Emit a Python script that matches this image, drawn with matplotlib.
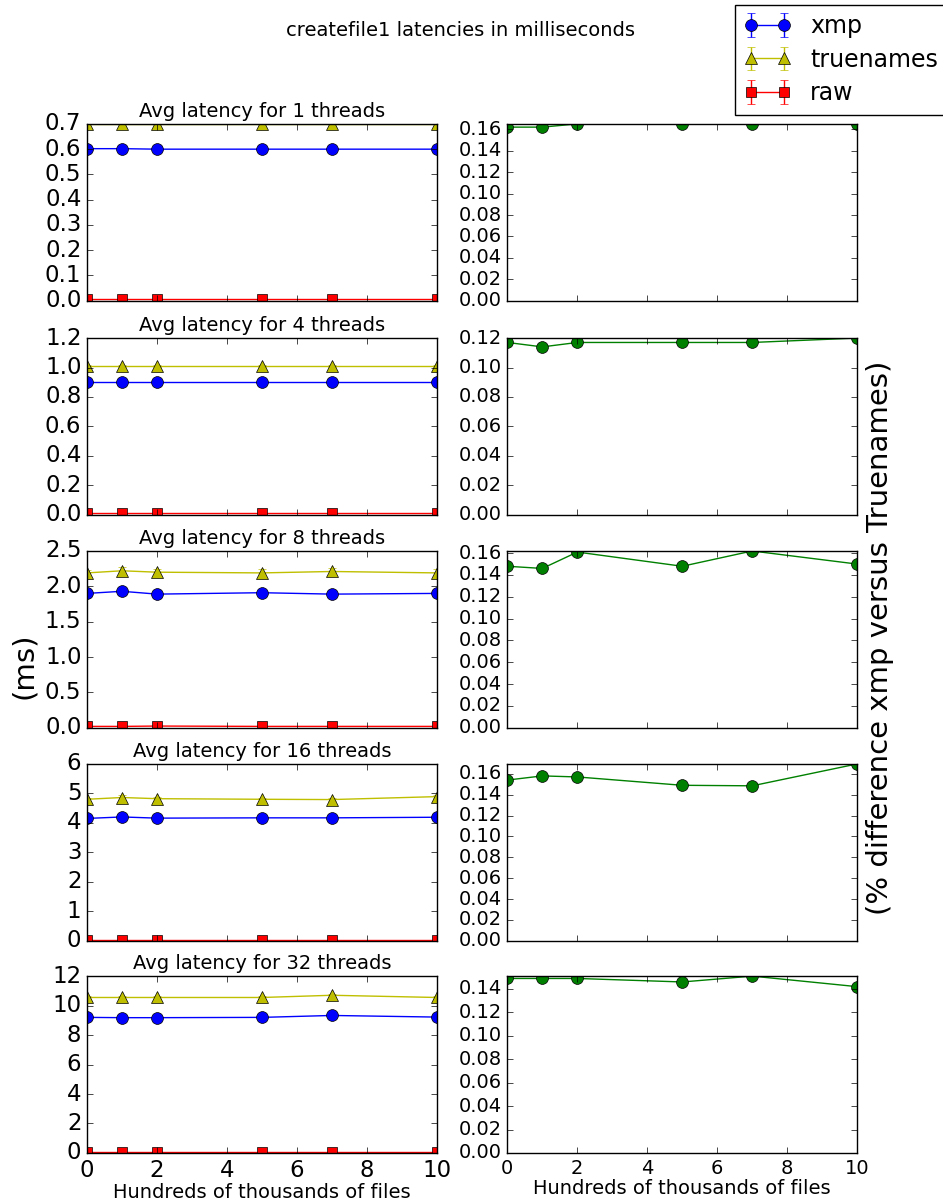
import matplotlib
matplotlib.use("Agg")
import matplotlib.pyplot as plt

plt.style.use("classic")

files = [0, 1, 2, 5, 7, 10]
threads = [1, 4, 8, 16, 32]

# average latency (ms) per thread count
xmp = [
    [0.602, 0.602, 0.600, 0.600, 0.600, 0.600],
    [0.905, 0.905, 0.905, 0.905, 0.905, 0.905],
    [1.90, 1.93, 1.89, 1.91, 1.89, 1.90],
    [4.15, 4.20, 4.16, 4.17, 4.17, 4.19],
    [9.20, 9.18, 9.18, 9.20, 9.33, 9.22],
]
truenames = [
    [0.699, 0.699, 0.699, 0.699, 0.699, 0.699],
    [1.01, 1.01, 1.01, 1.01, 1.01, 1.01],
    [2.19, 2.22, 2.20, 2.19, 2.21, 2.19],
    [4.80, 4.86, 4.82, 4.80, 4.79, 4.89],
    [10.55, 10.55, 10.55, 10.55, 10.70, 10.55],
]
raw = [
    [0.005, 0.005, 0.005, 0.005, 0.005, 0.005],
    [0.01, 0.01, 0.01, 0.01, 0.01, 0.01],
    [0.02, 0.02, 0.025, 0.02, 0.02, 0.02],
    [0.04, 0.04, 0.04, 0.04, 0.04, 0.04],
    [0.06, 0.06, 0.06, 0.06, 0.06, 0.06],
]
xmp_err = [
    [0.004, 0.004, 0.003, 0.003, 0.003, 0.003],
    [0.005, 0.005, 0.005, 0.005, 0.005, 0.005],
    [0.04, 0.05, 0.05, 0.04, 0.04, 0.05],
    [0.06, 0.05, 0.05, 0.05, 0.05, 0.08],
    [0.08, 0.06, 0.06, 0.08, 0.10, 0.08],
]
truenames_err = [
    [0.001, 0.001, 0.001, 0.001, 0.001, 0.001],
    [0.005, 0.005, 0.005, 0.005, 0.005, 0.005],
    [0.04, 0.05, 0.04, 0.05, 0.05, 0.05],
    [0.06, 0.08, 0.07, 0.06, 0.06, 0.06],
    [0.10, 0.10, 0.10, 0.10, 0.12, 0.10],
]
raw_err = [
    [0.002, 0.002, 0.002, 0.002, 0.002, 0.002],
    [0.003, 0.003, 0.003, 0.003, 0.003, 0.003],
    [0.01, 0.01, 0.02, 0.01, 0.01, 0.01],
    [0.02, 0.02, 0.02, 0.02, 0.02, 0.02],
    [0.03, 0.03, 0.03, 0.03, 0.03, 0.03],
]
# percent difference xmp versus truenames
diff = [
    [0.162, 0.162, 0.165, 0.165, 0.165, 0.165],
    [0.117, 0.114, 0.117, 0.117, 0.117, 0.120],
    [0.148, 0.146, 0.161, 0.148, 0.162, 0.150],
    [0.154, 0.158, 0.157, 0.149, 0.1485, 0.1695],
    [0.149, 0.149, 0.149, 0.146, 0.151, 0.142],
]
latency_top = [0.7, 1.2, 2.5, 6, 12]

fig = plt.figure(figsize=(9.43, 12.03), dpi=100)
fig.patch.set_facecolor("white")

left_x, right_x, w = 0.0923, 0.538, 0.371
bottoms = [0.750, 0.572, 0.395, 0.218, 0.0416]
h = 0.147

for i, n in enumerate(threads):
    ax = fig.add_axes([left_x, bottoms[i], w, h])
    ax.errorbar(files, xmp[i], yerr=xmp_err[i], fmt="b-o", markersize=8.5, label="xmp")
    ax.errorbar(files, truenames[i], yerr=truenames_err[i], fmt="y-^", markersize=8.5, label="truenames")
    ax.errorbar(files, raw[i], yerr=raw_err[i], fmt="r-s", markersize=7.5, label="raw")
    ax.set_title("Avg latency for %d threads" % n, fontsize=14)
    ax.set_ylim(0, latency_top[i])
    ax.tick_params(labelsize=16.5)
    if i == 0:
        handles, labels = ax.get_legend_handles_labels()

    ax2 = fig.add_axes([right_x, bottoms[i], w, h])
    ax2.plot(files, diff[i], "g-o", markersize=8.5)
    ax2.set_ylim(0, max(diff[i]))
    ax2.tick_params(labelsize=14)

    if i == len(threads) - 1:
        ax.set_xlabel("Hundreds of thousands of files", fontsize=14, labelpad=1)
        ax2.set_xlabel("Hundreds of thousands of files", fontsize=14, labelpad=1)
    else:
        ax.set_xticklabels([])
        ax2.set_xticklabels([])

fig.text(0.488, 0.975, "createfile1 latencies in milliseconds", ha="center", va="center", fontsize=14)
fig.text(0.025, 0.447, "(ms)", rotation=90, ha="center", va="center", fontsize=21)
fig.text(0.933, 0.47, "(% difference xmp versus Truenames)", rotation=90, ha="center", va="center", fontsize=21)

fig.legend(handles, labels, loc="upper left", bbox_to_anchor=(0.779, 0.996),
           borderaxespad=0, fontsize=17, labelspacing=0.4)

fig.savefig("out.png", dpi=100, facecolor="white")
